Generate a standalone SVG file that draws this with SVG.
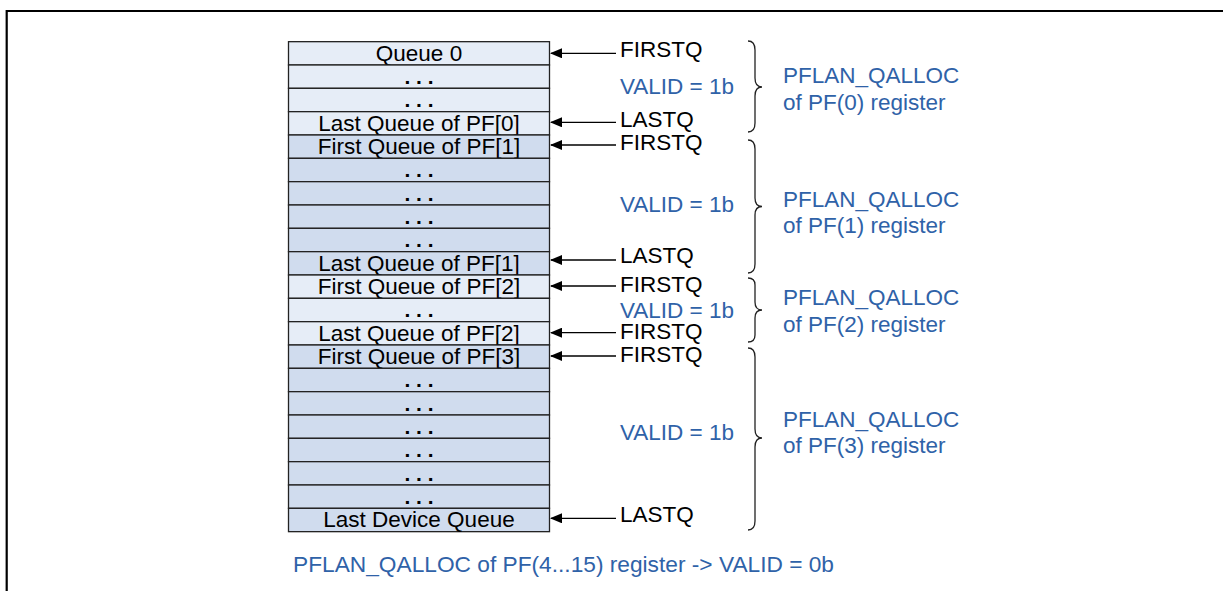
<svg xmlns="http://www.w3.org/2000/svg" width="1223" height="591" viewBox="0 0 1223 591">
<style>
  text { font-family: "Liberation Sans", Arial, sans-serif; font-size: 22.5px; }
  .cell { text-anchor: middle; fill: #000; }
  .dots { text-anchor: middle; fill: #000; font-weight: bold; font-size: 21px; }
  .lbl { fill: #000; }
  .blue { fill: #2f62a8; }
  .light { fill: #e6edf7; stroke: #222; stroke-width: 1.3; }
  .dark { fill: #d0dcee; stroke: #222; stroke-width: 1.3; }
  .conn { stroke: #000; stroke-width: 1.3; fill: none; }
  .brace { stroke: #222; stroke-width: 1.3; fill: none; }
</style>
<defs>
  <marker id="ah" markerWidth="12" markerHeight="10" refX="11" refY="5" orient="auto" markerUnits="userSpaceOnUse">
    <path d="M0,0 L12,5 L0,10 Z" fill="#000"/>
  </marker>
</defs>
<rect x="0" y="0" width="1223" height="591" fill="#fff"/>
<path d="M6.7 591 L6.7 11 L1223 11" stroke="#000" stroke-width="2.2" fill="none"/>

<g id="queues">
  <g id="row0"><rect class="light" x="288.5" y="41.67" width="261" height="23.33"/><text class="cell" x="419" y="60.5">Queue 0</text></g>
  <g id="row1"><rect class="light" x="288.5" y="65" width="261" height="23.33"/><text class="dots" x="419" y="84">. . .</text></g>
  <g id="row2"><rect class="light" x="288.5" y="88.33" width="261" height="23.33"/><text class="dots" x="419" y="107.3">. . .</text></g>
  <g id="row3"><rect class="light" x="288.5" y="111.67" width="261" height="23.33"/><text class="cell" x="419" y="130.5">Last Queue of PF[0]</text></g>
  <g id="row4"><rect class="dark" x="288.5" y="135" width="261" height="23.33"/><text class="cell" x="419" y="153.8">First Queue of PF[1]</text></g>
  <g id="row5"><rect class="dark" x="288.5" y="158.33" width="261" height="23.33"/><text class="dots" x="419" y="177.3">. . .</text></g>
  <g id="row6"><rect class="dark" x="288.5" y="181.67" width="261" height="23.33"/><text class="dots" x="419" y="200.7">. . .</text></g>
  <g id="row7"><rect class="dark" x="288.5" y="205" width="261" height="23.33"/><text class="dots" x="419" y="224">. . .</text></g>
  <g id="row8"><rect class="dark" x="288.5" y="228.33" width="261" height="23.33"/><text class="dots" x="419" y="247.3">. . .</text></g>
  <g id="row9"><rect class="dark" x="288.5" y="251.67" width="261" height="23.33"/><text class="cell" x="419" y="270.5">Last Queue of PF[1]</text></g>
  <g id="row10"><rect class="light" x="288.5" y="275" width="261" height="23.33"/><text class="cell" x="419" y="293.8">First Queue of PF[2]</text></g>
  <g id="row11"><rect class="light" x="288.5" y="298.33" width="261" height="23.33"/><text class="dots" x="419" y="317.3">. . .</text></g>
  <g id="row12"><rect class="light" x="288.5" y="321.67" width="261" height="23.33"/><text class="cell" x="419" y="340.5">Last Queue of PF[2]</text></g>
  <g id="row13"><rect class="dark" x="288.5" y="345" width="261" height="23.33"/><text class="cell" x="419" y="363.8">First Queue of PF[3]</text></g>
  <g id="row14"><rect class="dark" x="288.5" y="368.33" width="261" height="23.33"/><text class="dots" x="419" y="387.3">. . .</text></g>
  <g id="row15"><rect class="dark" x="288.5" y="391.67" width="261" height="23.33"/><text class="dots" x="419" y="410.7">. . .</text></g>
  <g id="row16"><rect class="dark" x="288.5" y="415" width="261" height="23.33"/><text class="dots" x="419" y="434">. . .</text></g>
  <g id="row17"><rect class="dark" x="288.5" y="438.33" width="261" height="23.33"/><text class="dots" x="419" y="457.3">. . .</text></g>
  <g id="row18"><rect class="dark" x="288.5" y="461.67" width="261" height="23.33"/><text class="dots" x="419" y="480.7">. . .</text></g>
  <g id="row19"><rect class="dark" x="288.5" y="485" width="261" height="23.33"/><text class="dots" x="419" y="504">. . .</text></g>
  <g id="row20"><rect class="dark" x="288.5" y="508.33" width="261" height="23.33"/><text class="cell" x="419" y="527.1">Last Device Queue</text></g>
</g>

<g id="connectors">
  <line class="conn" x1="616" y1="53.3" x2="551" y2="53.3" marker-end="url(#ah)"/>
  <line class="conn" x1="616" y1="122.3" x2="551" y2="122.3" marker-end="url(#ah)"/>
  <line class="conn" x1="616" y1="145" x2="551" y2="145" marker-end="url(#ah)"/>
  <line class="conn" x1="616" y1="260" x2="551" y2="260" marker-end="url(#ah)"/>
  <line class="conn" x1="616" y1="286" x2="551" y2="286" marker-end="url(#ah)"/>
  <line class="conn" x1="616" y1="332.7" x2="551" y2="332.7" marker-end="url(#ah)"/>
  <line class="conn" x1="616" y1="356" x2="551" y2="356" marker-end="url(#ah)"/>
  <line class="conn" x1="616" y1="518.3" x2="551" y2="518.3" marker-end="url(#ah)"/>
</g>

<g id="pointer-labels">
  <text class="lbl" x="620" y="56.7">FIRSTQ</text>
  <text class="lbl" x="620" y="126.7">LASTQ</text>
  <text class="lbl" x="620" y="150">FIRSTQ</text>
  <text class="lbl" x="620" y="263.3">LASTQ</text>
  <text class="lbl" x="620" y="291.7">FIRSTQ</text>
  <text class="lbl" x="620" y="339">FIRSTQ</text>
  <text class="lbl" x="620" y="361.7">FIRSTQ</text>
  <text class="lbl" x="620" y="521.7">LASTQ</text>
</g>

<g id="valid-labels">
  <text class="blue" x="620" y="94">VALID = 1b</text>
  <text class="blue" x="620" y="212">VALID = 1b</text>
  <text class="blue" x="620" y="318">VALID = 1b</text>
  <text class="blue" x="620" y="440">VALID = 1b</text>
</g>

<g id="brace-pf0">
  <path class="brace" d="M748 41 Q755 41 755 50 L755 78 Q755 87 762 87 Q755 87 755 96 L755 123 Q755 132 748 132"/>
  <text class="blue" x="783" y="83">PFLAN_QALLOC</text>
  <text class="blue" x="783" y="109.5">of PF(0) register</text>
</g>
<g id="brace-pf1">
  <path class="brace" d="M748 140 Q755 140 755 149 L755 198 Q755 206.5 762 206.5 Q755 206.5 755 215 L755 264 Q755 273 748 273"/>
  <text class="blue" x="783" y="206.5">PFLAN_QALLOC</text>
  <text class="blue" x="783" y="233">of PF(1) register</text>
</g>
<g id="brace-pf2">
  <path class="brace" d="M748 278 Q755 278 755 285 L755 302 Q755 310 762 310 Q755 310 755 318 L755 335 Q755 342 748 342"/>
  <text class="blue" x="783" y="305">PFLAN_QALLOC</text>
  <text class="blue" x="783" y="331.5">of PF(2) register</text>
</g>
<g id="brace-pf3">
  <path class="brace" d="M748 348 Q755 348 755 357 L755 429 Q755 438 762 438 Q755 438 755 447 L755 521 Q755 530 748 530"/>
  <text class="blue" x="783" y="426.5">PFLAN_QALLOC</text>
  <text class="blue" x="783" y="453">of PF(3) register</text>
</g>

<g id="footnote">
  <text class="blue" x="293" y="572" textLength="541" lengthAdjust="spacingAndGlyphs">PFLAN_QALLOC of PF(4...15) register -&gt; VALID = 0b</text>
</g>
</svg>
